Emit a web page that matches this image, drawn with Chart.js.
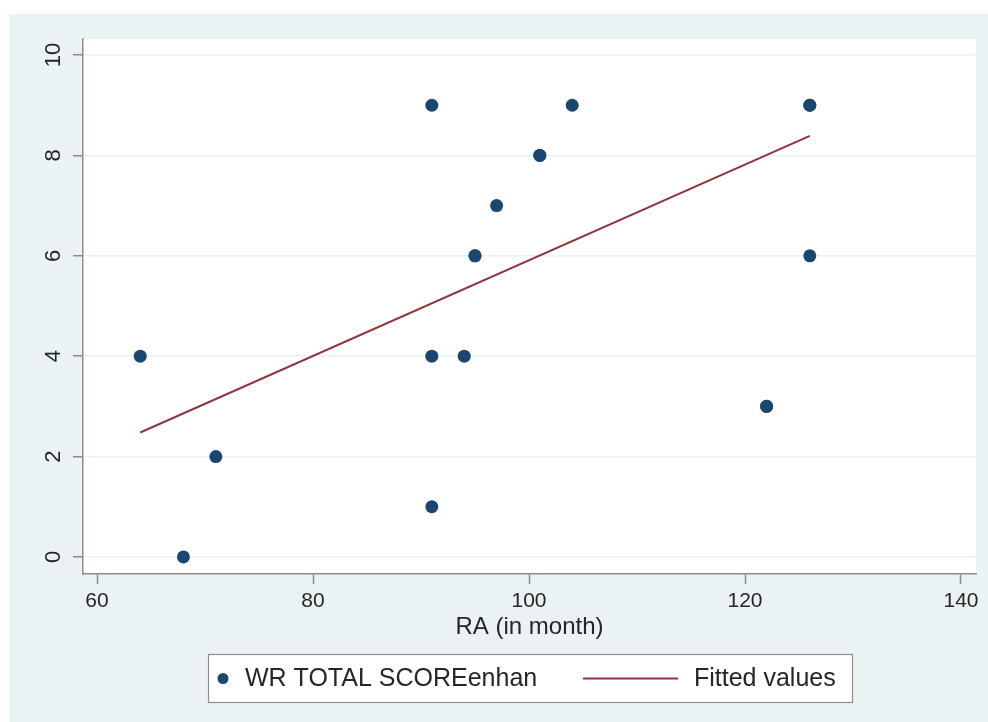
<!DOCTYPE html>
<html>
<head>
<meta charset="utf-8">
<script src="https://cdn.jsdelivr.net/npm/chart.js@4/dist/chart.umd.min.js"></script>
<style>
  html, body { margin: 0; padding: 0; background: #ffffff; }
  canvas { display: block; }
</style>
</head>
<body>
<canvas id="chart" width="988" height="722"></canvas>
<script>
// Observations: RA (months) against WR total score
const raMonths = [64, 68, 71, 91, 91, 91, 94, 95, 95, 97, 101, 101, 104, 122, 122, 126, 126, 126];
const wrScores = [4, 0, 2, 9, 4, 1, 4, 6, 6, 7, 8, 8, 9, 3, 3, 9, 9, 6];

// Linear fit, evaluated at the smallest and largest RA
const fitX = [64, 126];
const fitY = [2.48, 8.39];

const xTicks = [60, 80, 100, 120, 140];
const yTicks = [0, 2, 4, 6, 8, 10];
const seriesNames = ['WR TOTAL SCOREenhan', 'Fitted values'];
const xTitle = 'RA (in month)';

const FONT = '"Liberation Sans", Arial, Helvetica, sans-serif';
const TEXT = '#262626';
const AXIS = '#8c8c8c';
const REGION = '#eaf2f3';
const MARKER = '#1a476f';
const FITLINE = '#90353b';

// Graph region background and white plot region
const backgroundPlugin = {
  id: 'stataBackground',
  beforeDraw(chart) {
    const { ctx, chartArea: a } = chart;
    ctx.save();
    ctx.fillStyle = '#ffffff';
    ctx.fillRect(0, 0, chart.width, chart.height);
    ctx.fillStyle = REGION;
    ctx.fillRect(9, 14, chart.width - 9, chart.height - 14);
    ctx.fillStyle = '#ffffff';
    ctx.fillRect(a.left, a.top, a.right - a.left, a.bottom - a.top);
    ctx.restore();
  }
};

// Boxed legend below the axis title
const legendBoxPlugin = {
  id: 'legendBox',
  afterDraw(chart) {
    const { ctx } = chart;
    const ds = chart.data.datasets;
    const box = { x: 208.5, y: 654.5, w: 644, h: 48 };
    const cy = box.y + box.h / 2;
    ctx.save();
    ctx.fillStyle = '#ffffff';
    ctx.fillRect(box.x, box.y, box.w, box.h);
    ctx.strokeStyle = '#8f8f8f';
    ctx.lineWidth = 1.2;
    ctx.strokeRect(box.x, box.y, box.w, box.h);

    // marker key
    ctx.fillStyle = ds[0].backgroundColor;
    ctx.beginPath();
    ctx.arc(223, cy, 5.5, 0, Math.PI * 2);
    ctx.fill();

    // line key
    ctx.strokeStyle = ds[1].borderColor;
    ctx.lineWidth = ds[1].borderWidth;
    ctx.beginPath();
    ctx.moveTo(583, cy);
    ctx.lineTo(678, cy);
    ctx.stroke();

    ctx.fillStyle = TEXT;
    ctx.font = '25px ' + FONT;
    ctx.textBaseline = 'middle';
    ctx.textAlign = 'left';
    ctx.fillText(ds[0].label, 245, cy + 1);
    ctx.fillText(ds[1].label, 694, cy + 1);
    ctx.restore();
  }
};

const scatterPoints = raMonths.map((x, i) => ({ x, y: wrScores[i] }));
const fitPoints = fitX.map((x, i) => ({ x, y: fitY[i] }));

new Chart(document.getElementById('chart'), {
  type: 'scatter',
  data: {
    datasets: [
      {
        label: seriesNames[0],
        data: scatterPoints,
        backgroundColor: MARKER,
        borderColor: MARKER,
        borderWidth: 0,
        pointRadius: 6.5,
        pointHoverRadius: 6.5,
        order: 2
      },
      {
        type: 'line',
        label: seriesNames[1],
        data: fitPoints,
        borderColor: FITLINE,
        borderWidth: 2,
        pointRadius: 0,
        fill: false,
        tension: 0,
        order: 1
      }
    ]
  },
  options: {
    responsive: false,
    animation: false,
    devicePixelRatio: 1,
    events: [],
    layout: { padding: { top: 39, right: 12, bottom: 78, left: 0 } },
    plugins: {
      legend: { display: false },
      tooltip: { enabled: false }
    },
    scales: {
      x: {
        type: 'linear',
        min: 58.7,
        max: 141.39,
        afterBuildTicks(scale) { scale.ticks = xTicks.map(v => ({ value: v })); },
        afterFit(scale) { scale.height = 70; },
        border: { display: true, color: AXIS, width: 1.5 },
        grid: { display: true, drawOnChartArea: false, drawTicks: true, tickLength: 10, color: AXIS, tickColor: AXIS, tickWidth: 1.5 },
        ticks: { color: TEXT, font: { family: FONT, size: 21 }, padding: 5, maxRotation: 0, minRotation: 0 },
        title: { display: true, text: xTitle, color: TEXT, font: { family: FONT, size: 24 }, padding: { top: 0, bottom: 2 } }
      },
      y: {
        type: 'linear',
        min: -0.34,
        max: 10.32,
        afterBuildTicks(scale) { scale.ticks = yTicks.map(v => ({ value: v })); },
        afterFit(scale) { scale.width = 83; },
        border: { display: true, color: AXIS, width: 1.5 },
        grid: { display: true, drawOnChartArea: true, drawTicks: true, tickLength: 10, color: REGION, tickColor: AXIS, tickWidth: 1.5, lineWidth: 1.5 },
        ticks: { color: TEXT, font: { family: FONT, size: 22 }, padding: 7, minRotation: 90, maxRotation: 90, crossAlign: 'center' }
      }
    }
  },
  plugins: [backgroundPlugin, legendBoxPlugin]
});
</script>
</body>
</html>
